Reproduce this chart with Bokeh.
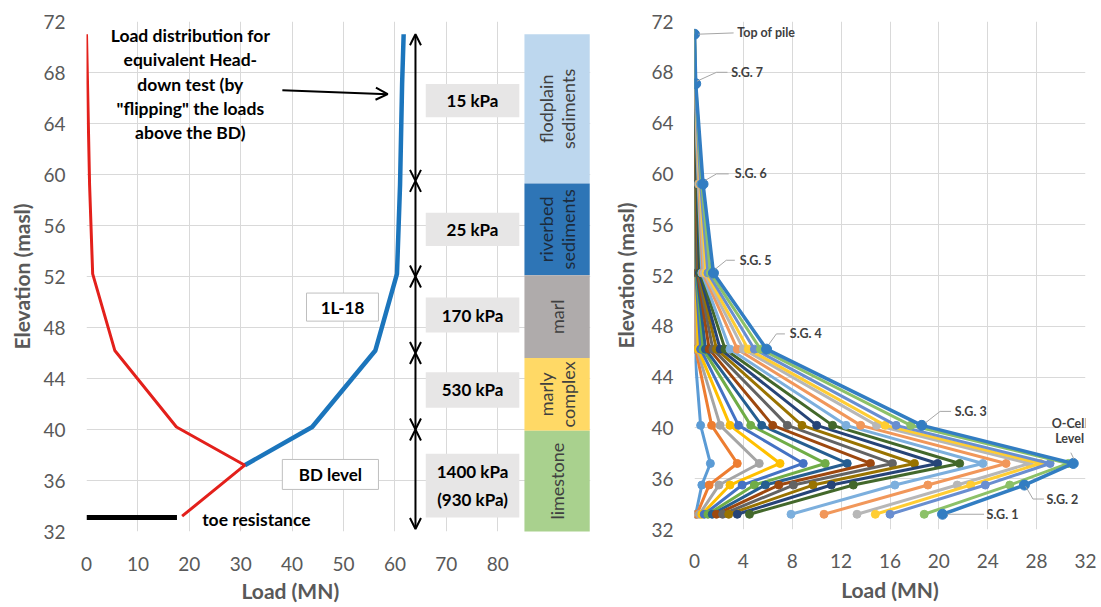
import math
from bokeh.plotting import figure
from bokeh.layouts import row
from bokeh.models import ColumnDataSource, FixedTicker, Range1d, Arrow, OpenHead, Title
from bokeh.core.properties import value
from bokeh.embed import file_html
from bokeh.resources import INLINE

FONT = "Lato"
GRID = "#D9D9D9"
TICK = "#595959"

# ---------------- left chart data ----------------
red_elev = [71.0, 67.1, 59.2, 52.2, 46.2, 40.2, 37.2, 33.2]
red_load = [0.0, 0.2, 0.6, 1.2, 5.5, 17.5, 30.8, 18.6]
blue_elev = [71.0, 67.1, 59.2, 52.2, 46.2, 40.2, 37.2]
blue_load = [61.7, 61.4, 61.0, 60.4, 56.2, 43.9, 30.8]
toe_elev = [33.1, 33.1]
toe_load = [0.0, 17.6]

layer_names = ["flodplain\nsediments", "riverbed\nsediments", "marl", "marly\ncomplex", "limestone"]
layer_top = [71.0, 59.3, 52.1, 45.6, 39.9]
layer_bottom = [59.3, 52.1, 45.6, 39.9, 31.4]
layer_colors = ["#BDD7EE", "#2E75B6", "#AFABAB", "#FFD966", "#A9D18E"]
layer_text_colors = ["#404040", "#1C2B3C", "#404040", "#404040", "#404040"]

shear_labels = ["15 kPa", "25 kPa", "170 kPa", "530 kPa", "1400 kPa\n(930 kPa)"]
shear_top = [67.1, 57.0, 50.35, 44.5, 38.1]
shear_bottom = [64.5, 54.4, 47.6, 41.7, 33.1]
zone_bounds = [71.0, 59.5, 52.0, 46.0, 40.0, 32.2]

left_xticks = [0, 10, 20, 30, 40, 50, 60, 70, 80]
elev_ticks = [32, 36, 40, 44, 48, 52, 56, 60, 64, 68, 72]

# ---------------- right chart data ----------------
sg_elev = [71.0, 67.1, 59.2, 52.2, 46.2, 40.2, 37.2, 35.5, 33.2]
load_top = [0.0, 0.0, 0.0, 0.0, 0.0, 0.0, 0.0, 0.0, 0.0, 0.0, 0.0, 0.0, 0.0, 0.0, 0.0, 0.0, 0.0, 0.0, 0.0]
load_sg7 = [0.0, 0.0, 0.0, 0.0, 0.0, 0.0, 0.0, 0.0, 0.0, 0.0, 0.0, 0.0, 0.0, 0.05, 0.05, 0.05, 0.05, 0.1, 0.1]
load_sg6 = [0.0, 0.0, 0.0, 0.0, 0.05, 0.05, 0.1, 0.1, 0.15, 0.15, 0.2, 0.25, 0.3, 0.35, 0.4, 0.45, 0.5, 0.6, 0.7]
load_sg5 = [0.0, 0.0, 0.05, 0.1, 0.1, 0.15, 0.2, 0.25, 0.3, 0.35, 0.4, 0.5, 0.6, 0.7, 0.8, 0.95, 1.1, 1.3, 1.55]
load_sg4 = [0.0, 0.1, 0.2, 0.3, 0.5, 0.7, 0.9, 1.2, 1.5, 1.8, 2.1, 2.5, 2.9, 3.5, 4.0, 4.4, 4.9, 5.4, 5.9]
load_sg3 = [0.5, 1.4, 2.1, 2.9, 3.6, 4.6, 5.5, 6.4, 7.6, 8.8, 10.0, 11.3, 12.4, 13.6, 14.9, 15.6, 16.5, 17.7, 18.6]
load_ocell = [1.3, 3.5, 5.3, 7.0, 8.9, 10.7, 12.5, 14.4, 16.2, 18.0, 19.9, 21.7, 23.6, 25.5, 27.4, 28.3, 29.1, 30.6, 31.0]
load_sg2 = [0.6, 1.2, 2.0, 2.9, 3.9, 4.9, 5.8, 6.9, 8.1, 9.7, 11.2, 13.0, 16.4, 19.1, 21.5, 22.6, 23.8, 25.8, 27.0]
load_sg1 = [0.1, 0.2, 0.4, 0.6, 0.8, 1.1, 1.45, 1.8, 2.3, 2.8, 3.5, 4.5, 7.9, 10.6, 13.3, 14.8, 16.0, 18.8, 20.3]
series_colors = ["#5B9BD5", "#ED7D31", "#A5A5A5", "#FFC000", "#4472C4", "#70AD47", "#255E91",
                 "#9E480E", "#636363", "#997300", "#264478", "#43682B", "#7CAFDD", "#F1975A",
                 "#B7B7B7", "#FFCD33", "#698ED0", "#8CC168", "#327DC2"]
right_xticks = [0, 4, 8, 12, 16, 20, 24, 28, 32]

gauge_labels = ["Top of pile", "S.G. 7", "S.G. 6", "S.G. 5", "S.G. 4", "S.G. 3", "S.G. 2", "S.G. 1"]
ocell_label = "O-Cell\nLevel"

# ---------------- annotation positions (layout, not data) ----------------
STRIP_X = (85.2, 97.9)
BOX_X = (66.0, 84.2)
ARROW_X = 64.0
note_lines = ["Load distribution for", "equivalent Head-", "down test (by", "\"flipping\" the loads", "above the BD)"]
note_y = [70.9, 69.02, 67.06, 65.18, 63.29]
note_x = 20.2

gl_x = [3.5, 3.0, 3.3, 3.7, 7.8, 21.3, 28.8, 23.9]
gl_y = [71.1, 68.0, 60.0, 53.2, 47.4, 41.3, 34.4, 33.2]
leader_xs = [[0.3, 3.2], [0.2, 1.8, 2.7], [0.9, 1.8, 2.8], [1.7, 2.6, 3.3], [6.1, 6.7, 7.4],
             [18.9, 20.1, 21.0], [27.1, 27.7, 28.6], [20.7, 23.7], [30.8, 31.05]]
leader_ys = [[71.0, 71.1], [67.3, 68.0, 68.0], [59.5, 60.0, 60.0], [52.5, 53.2, 53.2], [46.6, 47.4, 47.4],
             [40.4, 41.3, 41.3], [35.4, 34.4, 34.4], [33.2, 33.2], [38.05, 37.55]]


def style(p, xticks, yticks):
    p.outline_line_color = None
    p.background_fill_color = "white"
    p.border_fill_color = "white"
    xt = FixedTicker(ticks=xticks)
    yt = FixedTicker(ticks=yticks)
    p.xaxis[0].ticker = xt
    p.yaxis[0].ticker = yt
    p.xgrid[0].ticker = xt
    p.ygrid[0].ticker = yt
    p.xgrid.grid_line_color = GRID
    p.ygrid.grid_line_color = GRID
    for ax in (p.xaxis[0], p.yaxis[0]):
        ax.axis_line_color = None
        ax.major_tick_line_color = None
        ax.minor_tick_line_color = None
        ax.major_tick_in = 0
        ax.major_tick_out = 0
        ax.major_label_text_font = FONT
        ax.major_label_text_font_size = "19px"
        ax.major_label_text_color = TICK
        ax.axis_label_text_font = FONT
        ax.axis_label_text_font_style = "bold"
        ax.axis_label_text_font_size = "21px"
        ax.axis_label_text_color = TICK


# ================= left figure =================
p1 = figure(frame_width=504, frame_height=510, x_range=Range1d(0, 98.05), y_range=Range1d(32, 72),
            min_border_left=86, min_border_right=18, min_border_top=21, min_border_bottom=75,
            output_backend="svg", toolbar_location=None, tools="")
style(p1, left_xticks, elev_ticks)
p1.ygrid.bounds = (0, 80)
p1.yaxis.axis_label = "Elevation (masl)"
p1.yaxis.major_label_standoff = 21
p1.yaxis.axis_label_standoff = 6
p1.xaxis.major_label_standoff = 25

# soil strip
p1.quad(left=STRIP_X[0], right=STRIP_X[1], bottom=layer_bottom, top=layer_top,
        fill_color=layer_colors, line_color=None)
strip_mid = [(max(b, 32.0) + t) / 2 for b, t in zip(layer_bottom, layer_top)]
p1.text(x=[(STRIP_X[0] + STRIP_X[1]) / 2] * len(layer_names), y=strip_mid, text=layer_names,
        angle=math.pi / 2, text_align="center", text_baseline="middle",
        text_font=value(FONT), text_font_size="18px", text_color=layer_text_colors,
        text_line_height=1.0)

# shear boxes
p1.quad(left=BOX_X[0], right=BOX_X[1], bottom=shear_bottom, top=shear_top,
        fill_color="#E7E6E6", line_color=None)
p1.text(x=[(BOX_X[0] + BOX_X[1]) / 2] * len(shear_labels),
        y=[(b + t) / 2 for b, t in zip(shear_bottom, shear_top)], text=shear_labels,
        text_align="center", text_baseline="middle", text_font=value(FONT),
        text_font_style="bold", text_font_size="17px", text_color="black", text_line_height=1.3)

# zone arrows
zsrc = ColumnDataSource(dict(x=[ARROW_X] * (len(zone_bounds) - 1),
                             ys=zone_bounds[:-1], ye=zone_bounds[1:]))
p1.add_layout(Arrow(x_start="x", y_start="ys", x_end="x", y_end="ye", source=zsrc,
                    start=OpenHead(size=11, line_width=2), end=OpenHead(size=11, line_width=2),
                    line_width=2, line_color="black"))

# load curves
p1.line(blue_load, blue_elev, line_color="#1B75BC", line_width=4.5)
p1.line(red_load, red_elev, line_color="#E3201B", line_width=3)
p1.line(toe_load, toe_elev, line_color="black", line_width=5)

# annotation boxes
p1.quad(left=[42.8, 38.1], right=[56.8, 56.8], bottom=[48.5, 35.3], top=[50.7, 37.65],
        fill_color="white", line_color="#BFBFBF", line_width=1)
p1.text(x=[49.8, 47.45], y=[49.6, 36.47], text=["1L-18", "BD level"], text_align="center",
        text_baseline="middle", text_font=value(FONT), text_font_style="bold",
        text_font_size="17px", text_color="black")
p1.text(x=[22.5], y=[32.95], text=["toe resistance"], text_align="left", text_baseline="middle",
        text_font=value(FONT), text_font_style="bold", text_font_size="17.5px", text_color="black")
p1.text(x=[note_x] * len(note_lines), y=note_y, text=note_lines, text_align="center",
        text_baseline="middle", text_font=value(FONT), text_font_style="bold",
        text_font_size="17.5px", text_color="black")
p1.add_layout(Arrow(x_start=38.1, y_start=66.6, x_end=58.6, y_end=66.3,
                    end=OpenHead(size=12, line_width=2), line_width=2, line_color="black"))
p1.add_layout(Title(text="Load (MN)", align="left", offset=155, standoff=4,
                    text_font=FONT, text_font_style="bold", text_font_size="21px",
                    text_color=TICK), "below")

# ================= right figure =================
p2 = figure(frame_width=391, frame_height=508, x_range=Range1d(0, 32), y_range=Range1d(32, 72),
            min_border_left=86, min_border_right=12, min_border_top=19, min_border_bottom=79,
            output_backend="svg", toolbar_location=None, tools="")
style(p2, right_xticks, elev_ticks)
p2.yaxis.axis_label = "Elevation (masl)"
p2.yaxis.major_label_standoff = 21
p2.yaxis.axis_label_standoff = 10
p2.xaxis.major_label_standoff = 24
p2.xaxis.axis_label = "Load (MN)"
p2.xaxis.axis_label_standoff = 6

levels = [load_top, load_sg7, load_sg6, load_sg5, load_sg4, load_sg3, load_ocell, load_sg2, load_sg1]
n_series = len(series_colors)
for i in range(n_series):
    xs = [lv[i] for lv in levels]
    last = (i == n_series - 1)
    p2.line(xs, sg_elev, line_color=series_colors[i], line_width=3.5 if last else 3)
    p2.scatter(xs, sg_elev, size=10 if last else 8, fill_color=series_colors[i],
               line_color=series_colors[i])

p2.multi_line(xs=leader_xs, ys=leader_ys, line_color="#A6A6A6", line_width=1)
p2.text(x=gl_x, y=gl_y, text=gauge_labels, text_align="left", text_baseline="middle",
        text_font=value(FONT), text_font_style="bold", text_font_size="12.5px", text_color="#404040")
p2.text(x=[30.7], y=[39.75], text=[ocell_label], text_align="center", text_baseline="middle",
        text_font=value(FONT), text_font_style="bold", text_font_size="12.5px", text_color="#404040",
        text_line_height=1.05)

layout = row(p1, p2)
open("out.html", "w").write(file_html(layout, INLINE))
